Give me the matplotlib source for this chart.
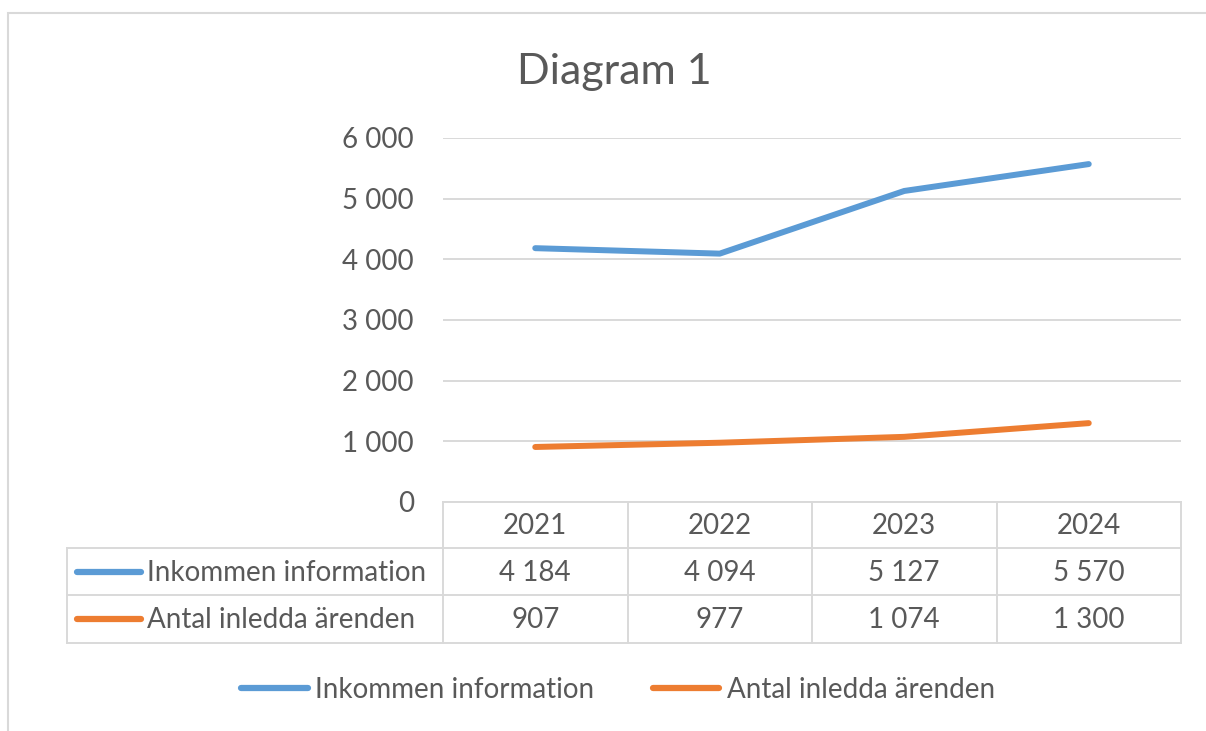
import matplotlib.pyplot as plt
import matplotlib.transforms as mtransforms
from matplotlib.lines import Line2D
from matplotlib.patches import Rectangle

years = ["2021", "2022", "2023", "2024"]
inkommen = [4184, 4094, 5127, 5570]
inledda = [907, 977, 1074, 1300]
series_names = ["Inkommen information", "Antal inledda ärenden"]
yticks = [0, 1000, 2000, 3000, 4000, 5000, 6000]

BLUE = "#5B9BD5"
ORANGE = "#ED7D31"
TXT = "#595959"
GRID = "#D9D9D9"
FS = 20

plt.rcParams['font.family'] = ['Lato', 'DejaVu Sans']

W, H = 1206, 731
def fx(px):
    return px / W
def fy(py):
    return 1 - py / H

def fmt(v):
    return f"{v:,}".replace(",", " ")

fig = plt.figure(figsize=(12.06, 7.31), dpi=100)

# outer chart frame
fig.patches.append(Rectangle((fx(8), -0.02), 1.05, fy(13) + 0.02, transform=fig.transFigure,
                             fill=False, edgecolor="#D9D9D9", linewidth=1.5))

ax = fig.add_axes([fx(443), fy(502), fx(1181) - fx(443), fy(138) - fy(502)])
x = list(range(len(years)))
ax.plot(x, inkommen, color=BLUE, linewidth=4.3, solid_capstyle="round")
ax.plot(x, inledda, color=ORANGE, linewidth=4.3, solid_capstyle="round")
ax.set_xlim(-0.5, len(years) - 0.5)
ax.set_ylim(0, 6000)
ax.set_yticks(yticks)
ax.set_yticklabels([fmt(v) for v in yticks], fontsize=FS, color=TXT)
ax.tick_params(axis="y", length=0, pad=21)
ax.set_xticks([])
ax.grid(axis="y", color=GRID, linewidth=1.4)
ax.set_axisbelow(True)
for s in ax.spines.values():
    s.set_visible(False)

fig.text(fx(614), fy(72), "Diagram 1", fontsize=31, color=TXT, ha="center", va="center")

# data table under the plot
tr = mtransforms.blended_transform_factory(ax.transData, fig.transFigure)
rows_y = [fy(502), fy(548), fy(595), fy(643)]
lw = 1.4
fig.add_artist(Line2D([-0.5, len(years) - 0.5], [rows_y[0]] * 2, transform=tr, color=GRID, lw=lw))
for yy in rows_y[1:]:
    fig.add_artist(Line2D([fx(67), fx(1181)], [yy, yy], transform=fig.transFigure, color=GRID, lw=lw))
for i in range(len(years) + 1):
    fig.add_artist(Line2D([i - 0.5, i - 0.5], [rows_y[0], rows_y[3]], transform=tr, color=GRID, lw=lw))
fig.add_artist(Line2D([fx(67), fx(67)], [rows_y[1], rows_y[3]], transform=fig.transFigure, color=GRID, lw=lw))

for i, yr in enumerate(years):
    fig.text(i, (rows_y[0] + rows_y[1]) / 2 - 0.002, yr, transform=tr, ha="center", va="center",
             fontsize=FS, color=TXT)
for r, (vals, col, name) in enumerate(zip([inkommen, inledda], [BLUE, ORANGE], series_names)):
    yc = (rows_y[r + 1] + rows_y[r + 2]) / 2
    for i, v in enumerate(vals):
        fig.text(i, yc - 0.002, fmt(v), transform=tr, ha="center", va="center", fontsize=FS, color=TXT)
    fig.add_artist(Line2D([fx(77), fx(141)], [yc, yc], transform=fig.transFigure, color=col,
                          lw=4.5, solid_capstyle="round"))
    fig.text(fx(147), yc - 0.002, name, ha="left", va="center", fontsize=FS, color=TXT)

# legend at bottom
handles = [Line2D([0], [0], color=BLUE, lw=4.5, solid_capstyle="round"),
           Line2D([0], [0], color=ORANGE, lw=4.5, solid_capstyle="round")]
leg = fig.legend(handles, series_names, loc="center", bbox_to_anchor=(fx(618), fy(690)), ncol=2,
                 frameon=False, fontsize=FS, handlelength=2.4, handletextpad=0.26, columnspacing=2.1)
for t in leg.get_texts():
    t.set_color(TXT)

fig.savefig("out.png", dpi=100)
